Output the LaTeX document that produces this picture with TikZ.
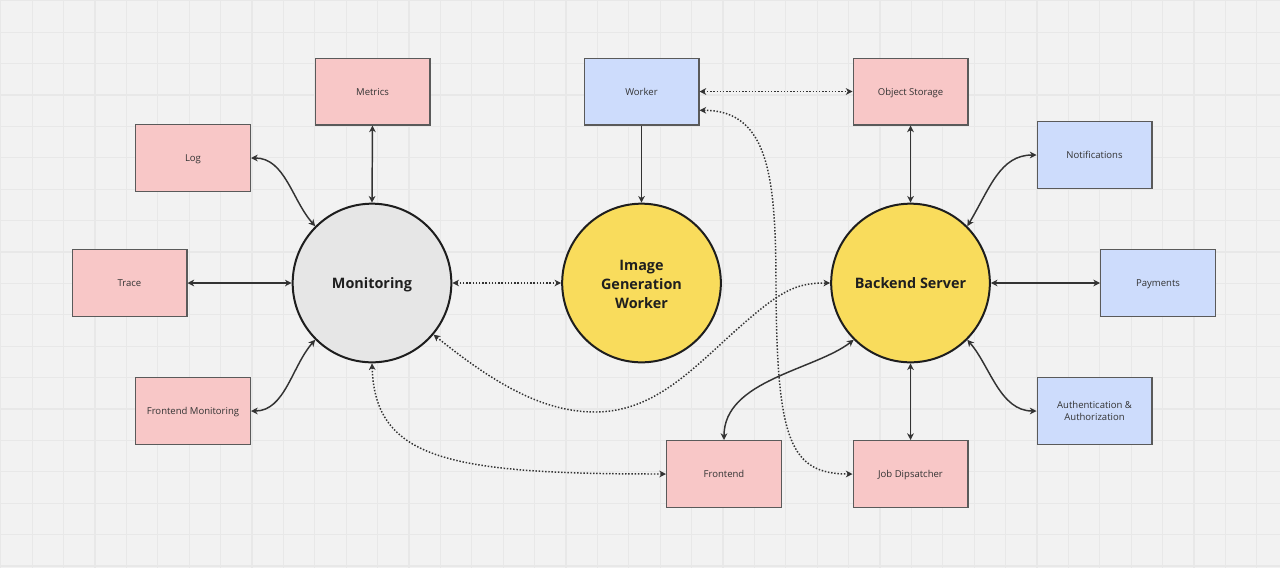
\documentclass[tikz,border=0pt]{standalone}
\usepackage{fontspec}
\setmainfont{Open Sans}
\usetikzlibrary{arrows.meta}
\definecolor{bgc}{HTML}{F2F2F2}
\definecolor{gridc}{HTML}{E8E8E8}
\definecolor{pinkc}{HTML}{F8C7C7}
\definecolor{bluec}{HTML}{CDDCFC}
\definecolor{yellowc}{HTML}{F9DC5C}
\definecolor{grayc}{HTML}{E6E6E6}
\definecolor{boxline}{HTML}{5A5A5A}
\definecolor{circline}{HTML}{1E1E1E}
\definecolor{linec}{HTML}{333333}
\definecolor{txtc}{HTML}{333333}
\tikzset{
  gridline/.style={draw=gridc, line width=1pt},
  box/.style={draw=boxline, line width=1pt, rectangle, minimum width=86pt, minimum height=50pt, inner sep=2pt, align=center, text=txtc, font=\fontsize{7.15pt}{9.3pt}\selectfont},
  oneline/.style={text depth=0pt},
  pinkbox/.style={box, fill=pinkc},
  bluebox/.style={box, fill=bluec},
  hub/.style={draw=circline, line width=1.5pt, circle, minimum size=119pt, inner sep=0pt, align=center, text=black!88, font=\fontsize{10.8pt}{14.2pt}\selectfont\bfseries},
  conn/.style={draw=linec, line width=1.1pt, {Stealth[length=5pt,width=5pt,inset=1.5pt]}-{Stealth[length=5pt,width=5pt,inset=1.5pt]}},
  oneway/.style={draw=linec, line width=1.1pt, -{Stealth[length=5pt,width=5pt,inset=1.5pt]}},
  dotconn/.style={conn, dash pattern=on 1.1pt off 1.3pt}
}
\begin{document}
\begin{tikzpicture}[x=0.75pt,y=-0.75pt]
\useasboundingbox (0,0) rectangle (1280,568);
\fill[bgc] (0,0) rectangle (1280,568);
\foreach \i in {0,...,40} {
  \draw[gridline] (0.8+31.4*\i,0) -- (0.8+31.4*\i,568);
}
\foreach \j in {0,...,18} {
  \draw[gridline] (0,0.8+31.4*\j) -- (1280,0.8+31.4*\j);
}

% hubs
\node[hub, fill=grayc, text depth=0pt] (Mon) at (372,283) {Monitoring};
\node[hub, fill=yellowc] (IGW) at (641.5,283) {};
\node[align=center, text=black!88, font=\fontsize{10.8pt}{14.2pt}\selectfont\bfseries, inner sep=0pt] (IGWtext) at (641.5,284.5) {Image\\Generation\\Worker};
\node[hub, fill=yellowc, text depth=0pt] (Back) at (910.5,283) {Backend Server};

% boxes
\node[pinkbox, oneline] (Metrics) at (372.5,91.5) {Metrics};
\node[pinkbox, oneline] (Log) at (193,158) {Log};
\node[pinkbox, oneline] (Trace) at (129.5,283) {Trace};
\node[pinkbox, oneline] (FMon) at (193,411) {Frontend Monitoring};
\node[bluebox, oneline] (Worker) at (641.5,91.5) {Worker};
\node[pinkbox, oneline] (ObjS) at (910.5,91.5) {Object Storage};
\node[bluebox, oneline] (Notif) at (1094.5,155) {Notifications};
\node[bluebox, oneline] (Pay) at (1158,283) {Payments};
\node[bluebox] (Auth) at (1094.5,411) {Authentication \&\\Authorization};
\node[pinkbox, oneline] (Front) at (724,474) {Frontend};
\node[pinkbox, oneline] (Job) at (910.5,474) {Job Dipsatcher};

% monitoring connectors
\draw[conn] (Metrics.south) -- (Mon.north);
\draw[conn] (Log.east) .. controls (285,158) and (292,200) .. (Mon.135);
\draw[conn] (Trace.east) -- (Mon.west);
\draw[conn] (FMon.east) .. controls (285,411) and (292,366) .. (Mon.225);
\draw[dotconn] (Mon.east) -- (IGW.west);

% worker
\draw[oneway] (Worker.south) -- (IGW.north);
\draw[dotconn] (Worker.east) -- (ObjS.west);
\draw[dotconn] (Worker.-18) .. controls (770,110) and (776,180) .. (776,290) .. controls (777,440) and (790,474) .. (Job.west);

% backend
\draw[conn] (ObjS.south) -- (Back.north);
\draw[conn] (Notif.west) .. controls (1000,155) and (990,188) .. (Back.45);
\draw[conn] (Back.east) -- (Pay.west);
\draw[conn] (Auth.west) .. controls (1000,411) and (990,366) .. (Back.-45);
\draw[conn] (Job.north) -- (Back.south);
\draw[conn] (Front.north) .. controls (724,380) and (815,370) .. (Back.225);

% long dotted
\draw[dotconn] (Mon.-40) .. controls (490,380) and (540,412) .. (595,412) .. controls (660,412) and (700,360) .. (750,318) .. controls (785,288) and (800,283) .. (Back.west);
\draw[dotconn] (Mon.south) .. controls (375,460) and (450,474) .. (Front.west);
\end{tikzpicture}
\end{document}
